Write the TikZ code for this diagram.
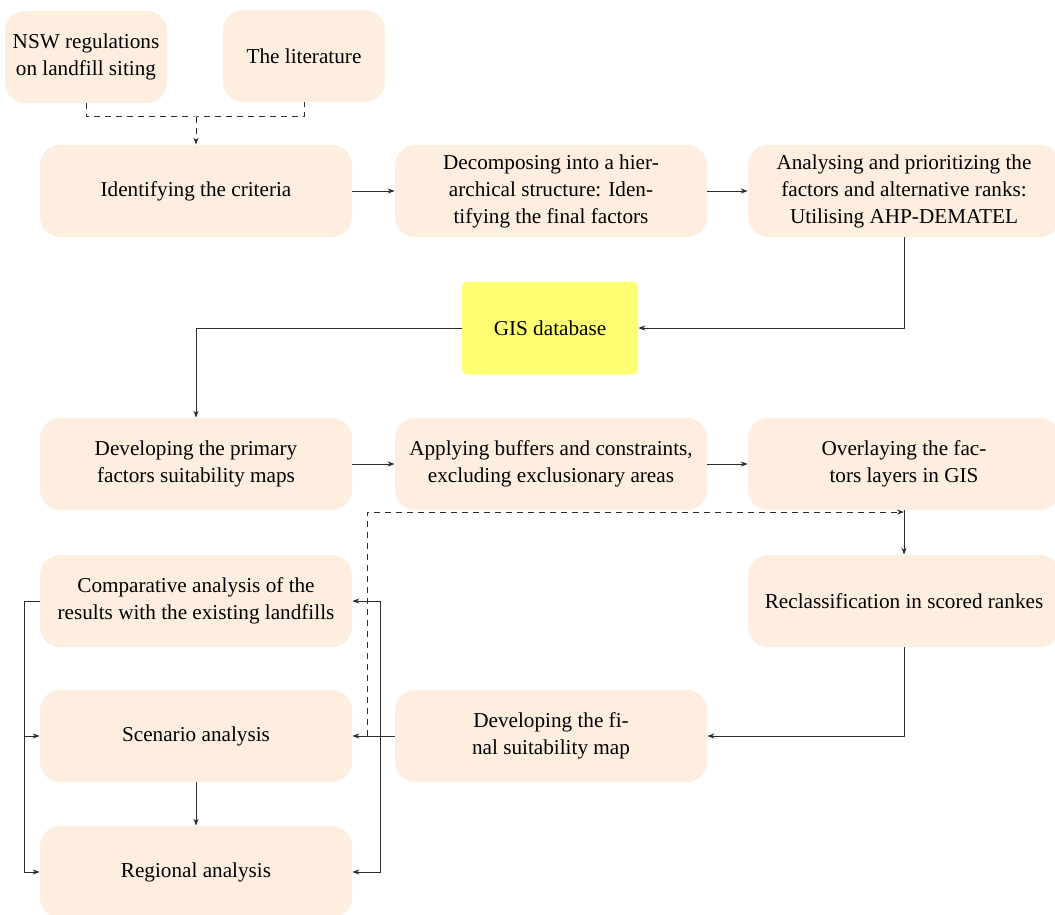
\documentclass[tikz,border=0pt]{standalone}
\usepackage{fontspec}
\setmainfont{Liberation Serif}
\usetikzlibrary{arrows.meta}
\definecolor{peach}{RGB}{253,238,224}
\definecolor{gisyellow}{RGB}{255,255,115}
\definecolor{linegray}{RGB}{45,45,45}
\begin{document}
\begin{tikzpicture}[x=0.5pt,y=-0.5pt,
  font=\fontsize{10.6}{13.5}\selectfont,
  box/.style={fill=peach,draw=none,rounded corners=10pt,minimum width=156pt,minimum height=46pt,align=center,inner sep=2pt},
  smallbox/.style={box,minimum width=81pt},
  gisbox/.style={fill=gisyellow,draw=none,rounded corners=3pt,minimum width=88pt,minimum height=46.5pt,align=center},
  conn/.style={line width=0.5pt,draw=linegray,-{Stealth[length=3.5pt,width=2.6pt]}},
  plain/.style={line width=0.5pt,draw=linegray},
  dconn/.style={conn,dashed,dash pattern=on 3pt off 2.5pt}
]
\useasboundingbox (0,0) rectangle (1055,915);
\node[smallbox] (nsw) at (86,57) {NSW regulations\\on landfill siting};
\node[smallbox] (lit) at (304,56) {The literature};
\node[box] (crit) at (196,191) {Identifying the criteria};
\node[box] (dec) at (551,191) {Decomposing into a hier-\\archical structure: Iden-\\tifying the final factors};
\node[box] (ana) at (904,191) {Analysing and prioritizing the\\factors and alternative ranks:\\Utilising AHP-DEMATEL};
\node[gisbox] (gis) at (550,328) {GIS database};
\node[box] (prim) at (196,464) {Developing the primary\\factors suitability maps};
\node[box] (app) at (551,464) {Applying buffers and constraints,\\excluding exclusionary areas};
\node[box] (ovl) at (904,464) {Overlaying the fac-\\tors layers in GIS};
\node[box] (rec) at (904,601) {Reclassification in scored rankes};
\node[box] (comp) at (196,601) {Comparative analysis of the\\results with the existing landfills};
\node[box] (scen) at (196,736) {Scenario analysis};
\node[box] (fin) at (551,736) {Developing the fi-\\nal suitability map};
\node[box] (reg) at (196,872) {Regional analysis};

% top dashed merge
\coordinate (j1) at (196,117);
\draw[plain,dashed,dash pattern=on 3pt off 2.5pt] (nsw.south) |- (j1) -| (lit.south);
\draw[dconn] (j1) -- (crit.north);

\draw[conn] (crit) -- (dec);
\draw[conn] (dec) -- (ana);
\draw[conn] (ana.south) |- (gis.east);
\draw[conn] (gis.west) -| (prim.north);
\draw[conn] (prim) -- (app);
\draw[conn] (app) -- (ovl);
\draw[conn] (ovl.south) -- (rec.north);

% dashed feedback
\coordinate (dstart) at (367,736);
\coordinate (dend) at (904,512);
\draw[dconn] (dstart) |- (dend);

\draw[conn] (rec.south) |- (fin.east);
\draw[conn] (fin.west) -- (scen.east);

% right distribution
\coordinate (rj) at (380,736);
\draw[conn] (rj) |- (comp.east);
\draw[conn] (rj) |- (reg.east);

% left distribution
\coordinate (lj) at (24,601);
\draw[plain] (comp.west) -- (lj);
\draw[conn] (lj) |- (scen.west);
\draw[conn] (lj) |- (reg.west);

\draw[conn] (scen) -- (reg);
\end{tikzpicture}
\end{document}
